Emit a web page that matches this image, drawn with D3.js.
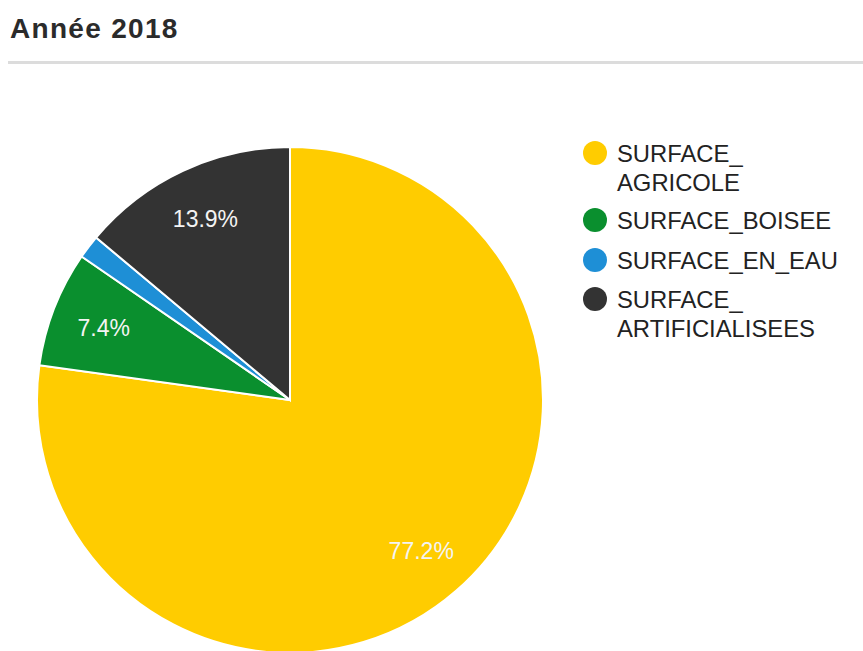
<!DOCTYPE html>
<html><head><meta charset="utf-8">
<script src="https://cdn.jsdelivr.net/npm/d3@7"></script>
<style>body{margin:0;background:#fff;}svg{display:block;font-family:"Liberation Sans",Arial,sans-serif;}</style>
</head><body>
<script>
const title = "Année 2018";
const categories = ["SURFACE_AGRICOLE","SURFACE_BOISEE","SURFACE_EN_EAU","SURFACE_ARTIFICIALISEES"];
const legendLines = [["SURFACE_","AGRICOLE"],["SURFACE_BOISEE"],["SURFACE_EN_EAU"],["SURFACE_","ARTIFICIALISEES"]];
const values = [77.2, 7.4, 1.5, 13.9];
const colors = ["#FFCC00","#0A8F2E","#1E8FD6","#333333"];

const W=863,H=651;
const svg=d3.select("body").append("svg").attr("width",W).attr("height",H);
svg.append("text").attr("x",10).attr("y",38).attr("font-size",28).attr("font-weight","bold")
  .attr("fill","#2b2b2b").attr("letter-spacing",1.3).text(title);
svg.append("rect").attr("x",8).attr("y",61).attr("width",W-8).attr("height",3).attr("fill","#dcdcdc");

const cx=290, cy=400, r=253;
const data=categories.map((c,i)=>({c,v:values[i],col:colors[i]}));
const pie=d3.pie().value(d=>d.v).sort(null);
const arc=d3.arc().innerRadius(0).outerRadius(r);
const labelArc=d3.arc().innerRadius(r*0.79).outerRadius(r*0.79);
const g=svg.append("g").attr("transform",`translate(${cx},${cy})`);
const arcs=pie(data);
g.selectAll("path").data(arcs).join("path").attr("d",arc).attr("fill",d=>d.data.col)
  .attr("stroke","#fff").attr("stroke-width",2);
g.selectAll("text").data(arcs.filter(d=>d.data.v>5)).join("text")
  .attr("transform",d=>`translate(${labelArc.centroid(d)})`)
  .attr("text-anchor","middle").attr("dy","0.36em").attr("font-size",23).attr("fill","#f4f4f4")
  .text(d=>d.data.v.toFixed(1)+"%");

const legY=[153,220,260,299];
const lg=svg.append("g");
legendLines.forEach((lines,i)=>{
  lg.append("circle").attr("cx",595).attr("cy",legY[i]).attr("r",12).attr("fill",colors[i]);
  lines.forEach((t,j)=>{
    lg.append("text").attr("x",617).attr("y",legY[i]+j*29).attr("dy","0.36em")
      .attr("font-size",23.8).attr("fill","#222").text(t);
  });
});
</script>
</body></html>
